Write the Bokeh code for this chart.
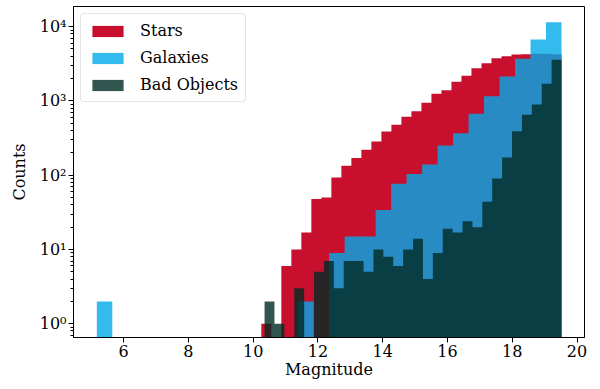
import numpy as np
from bokeh.plotting import figure
from bokeh.models import Range1d, FixedTicker
from bokeh.embed import file_html
from bokeh.resources import INLINE

# ---- data (histograms, 30 bins each) ----
n_bins = 30
stars_range = (10.25, 19.52)
galaxies_range = (5.17, 19.52)
bad_range = (10.35, 19.52)

stars_counts = [1, 0, 6, 10, 17, 48, 50, 93, 134, 171,
                220, 284, 387, 477, 611, 727, 942, 1247, 1393, 1808,
                2177, 2754, 3216, 3756, 4000, 4210, 4250, 4300, 4300, 4250]
galaxies_counts = [2, 0, 0, 0, 0, 0, 0, 0, 0, 0,
                   0, 0, 0, 2, 0, 9, 15, 15, 34, 77,
                   104, 139, 251, 367, 670, 1157, 2130, 3688, 6700, 11470]
bad_counts = [2, 1, 0, 3, 0, 5, 7, 3, 7, 7,
              5, 10, 8, 6, 10, 14, 4, 9, 19, 17,
              24, 20, 44, 90, 173, 391, 650, 895, 1700, 3573]

series_names = ["Stars", "Galaxies", "Bad Objects"]
series_colors = ["#C8102E", "#00AAEA", "#002A24"]
series_alpha = [1.0, 0.8, 0.8]

x_ticks = [6, 8, 10, 12, 14, 16, 18, 20]
y_ticks = [1, 10, 100, 1000, 10000]
y_tick_labels = ["10\u2070", "10\u00b9", "10\u00b2", "10\u00b3", "10\u2074"]

FONT = "DejaVu Serif"
FS = "16px"

p = figure(width=592, height=381,
           x_range=Range1d(4.45, 20.23), y_range=Range1d(0.654, 18650),
           y_axis_type="log", output_backend="svg", toolbar_location=None,
           min_border_left=73, min_border_right=8, min_border_top=6,
           min_border_bottom=44)
p.background_fill_color = "white"
p.border_fill_color = "white"
p.outline_line_color = "black"
p.outline_line_width = 1
p.grid.visible = False

floor = 0.1
for counts, rng, col, a, name in zip([stars_counts, galaxies_counts, bad_counts],
                                     [stars_range, galaxies_range, bad_range],
                                     series_colors, series_alpha, series_names):
    edges = np.linspace(rng[0], rng[1], n_bins + 1)
    c = np.asarray(counts, dtype=float)
    top = np.where(c > 0, c, floor)
    top = np.append(top, top[-1])
    p.varea_step(x=edges, y1=np.full(len(edges), floor), y2=top,
                 step_mode="after", fill_color=col, fill_alpha=a,
                 legend_label=name)

# axes
p.xaxis.ticker = FixedTicker(ticks=x_ticks)
minor = [m * 10.0 ** e for e in range(-1, 5) for m in range(2, 10)]
p.yaxis.ticker = FixedTicker(ticks=y_ticks, minor_ticks=minor)
p.yaxis.major_label_overrides = {t: l for t, l in zip(y_ticks, y_tick_labels)}
p.xaxis.axis_label = "Magnitude"
p.yaxis.axis_label = "Counts"
for ax in [p.xaxis[0], p.yaxis[0]]:
    ax.axis_line_color = "black"
    ax.axis_line_width = 1
    ax.major_tick_line_color = "black"
    ax.minor_tick_line_color = "black"
    ax.major_tick_out = 5
    ax.major_tick_in = 0
    ax.minor_tick_out = 3
    ax.minor_tick_in = 0
    ax.major_label_text_font = FONT
    ax.major_label_text_font_size = FS
    ax.major_label_text_color = "black"
    ax.axis_label_text_font = FONT
    ax.axis_label_text_font_size = FS
    ax.axis_label_text_font_style = "normal"
    ax.axis_label_text_color = "black"
p.xaxis.minor_tick_line_color = None
p.xaxis.major_label_standoff = 2
p.xaxis.axis_label_standoff = 0
p.yaxis.major_label_standoff = 2
p.yaxis.axis_label_standoff = 8

# legend
leg = p.legend[0]
leg.location = "top_left"
leg.margin = 7
leg.padding = 7
leg.spacing = 8
leg.glyph_width = 39
leg.glyph_height = 14
leg.label_height = 14
leg.label_standoff = 13
leg.label_text_font = FONT
leg.label_text_font_size = FS
leg.label_text_color = "black"
leg.border_line_color = "#cccccc"
leg.border_line_width = 1
leg.background_fill_alpha = 0.8
try:
    leg.border_radius = 4
except Exception:
    pass

open("out.html", "w").write(file_html(p, INLINE))
